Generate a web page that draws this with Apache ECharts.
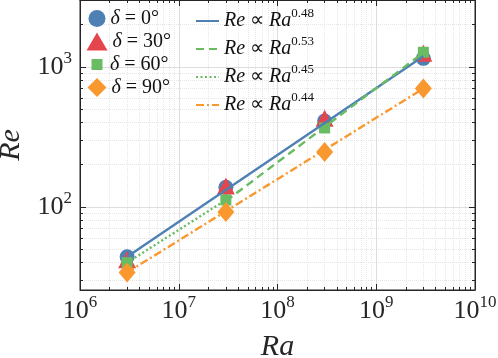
<!DOCTYPE html>
<html>
<head>
<meta charset="utf-8">
<script src="https://cdn.jsdelivr.net/npm/echarts@6/dist/echarts.min.js"></script>
<style>
  html, body { margin: 0; background: #fff; }
  #chart { width: 498px; height: 358px; }
</style>
</head>
<body>
<div id="chart"></div>
<script>
const raSamples = [3e6, 3e7, 3e8, 3e9]
const reDelta0 = [44, 138, 410, 1150]
const reDelta30 = [42, 141, 430, 1250]
const reDelta60 = [40, 112, 366, 1270]
const reDelta90 = [34, 92, 247, 699]

// fitted power laws, end points
const fit048Ra = [3e6, 3e9]
const fit048Re = [44, 1190]
const fit053Ra = [3e7, 3e9]
const fit053Re = [110, 1260]
const fit045Ra = [3e6, 3e7]
const fit045Re = [40, 112]
const fit044Ra = [3e6, 3e9]
const fit044Re = [34, 700]

const raRange = [1e6, 1e10]
const reRange = [25.5, 3000]

const markerNames = ['δ = 0°', 'δ = 30°', 'δ = 60°', 'δ = 90°']
const fitNames = ['0.48', '0.53', '0.45', '0.44']

const serif = 'Liberation Serif'
const ink = '#262626'
const blue = '#4f80b3'
const red = '#e5464e'
const green = '#69bc62'
const orange = '#f9982f'

function pairs(xs, ys) {
  return xs.map((x, i) => [x, ys[i]])
}

function powerLabel(value) {
  const e = Math.log10(value)
  if (Math.abs(e - Math.round(e)) > 1e-6) return ''
  return '{b|10}{s|' + Math.round(e) + '}'
}

const tickRich = {
  b: { fontFamily: serif, fontSize: 26, color: ink, lineHeight: 30 },
  s: { fontFamily: serif, fontSize: 17, color: ink, lineHeight: 30, padding: [0, 0, 16, 0] },
}

function logAxis(extra) {
  return Object.assign({
    type: 'log',
    logBase: 10,
    axisLine: { show: true, lineStyle: { color: ink, width: 1 } },
    axisTick: { show: true, inside: true, length: 6, lineStyle: { color: ink } },
    minorTick: { show: true, splitNumber: 9, length: 3, lineStyle: { color: ink } },
    splitLine: { show: true, lineStyle: { color: '#dedede', width: 1 } },
    minorSplitLine: { show: true, lineStyle: { color: '#e6e6e6', type: 'dotted', width: 1 } },
    axisLabel: { formatter: powerLabel, rich: tickRich },
  }, extra)
}

const legendText = {
  fontFamily: serif,
  fontSize: 20,
  color: '#111',
  lineHeight: 22,
  rich: {
    i: { fontFamily: serif, fontStyle: 'italic', fontSize: 20, color: '#111', lineHeight: 22 },
    t: { fontFamily: serif, fontSize: 20, color: '#111', lineHeight: 22 },
    s: { fontFamily: serif, fontSize: 13, color: '#111', lineHeight: 22, padding: [0, 0, 14, 0] },
  },
}

// marker legend rows: one legend each so every icon keeps its own size
const markerIcons = ['circle', 'triangle', 'rect', 'diamond']
const markerLegendSize = [[17, 17], [21, 18], [11, 11], [19, 19]]
const markerLegends = markerNames.map((name, i) => {
  const [w, h] = markerLegendSize[i]
  return {
    data: [{ name, icon: markerIcons[i] }],
    left: 97 - w / 2,
    top: 7.5 + i * 23,
    padding: 0,
    itemWidth: w,
    itemHeight: h,
    symbolKeepAspect: false,
    formatter: (n) => n.replace('δ', '{i|δ}'),
    textStyle: Object.assign({}, legendText, { padding: [0, 0, 0, Math.max(0, 8 - w / 2)] }),
  }
})

const fitLegend = {
  data: fitNames.map((e) => 'fit ' + e),
  orient: 'vertical',
  left: 195,
  top: 7.5,
  padding: 0,
  itemWidth: 23,
  itemHeight: 22,
  itemGap: 1,
  itemStyle: { color: 'rgba(0,0,0,0)', borderWidth: 0, opacity: 0 },
  formatter: (n) => '{i|Re} ∝ {i|Ra}{s|' + n.slice(4) + '}',
  textStyle: legendText,
}

const chart = echarts.init(document.getElementById('chart'))

chart.setOption({
  animation: false,
  backgroundColor: '#fff',
  grid: {
    left: 80, right: 23, top: 0, bottom: 68,
    outerBoundsMode: 'none', containLabel: false,
    show: true, borderColor: ink, borderWidth: 1,
  },
  legend: markerLegends.concat([fitLegend]),
  xAxis: [
    logAxis({
      min: raRange[0], max: raRange[1],
      name: 'Ra',
      nameLocation: 'middle',
      nameGap: 34,
      nameTextStyle: { fontFamily: serif, fontStyle: 'italic', fontSize: 30, color: ink },
      axisLabel: { formatter: powerLabel, rich: tickRich, margin: 6 },
    }),
    logAxis({
      min: raRange[0], max: raRange[1], position: 'top',
      axisLabel: { show: false }, splitLine: { show: false }, minorSplitLine: { show: false },
    }),
  ],
  yAxis: [
    logAxis({
      min: reRange[0], max: reRange[1],
      name: 'Re',
      nameLocation: 'middle',
      nameGap: 50,
      nameTextStyle: { fontFamily: serif, fontStyle: 'italic', fontSize: 30, color: ink },
      axisLabel: { formatter: powerLabel, rich: tickRich, margin: 8 },
    }),
    logAxis({
      min: reRange[0], max: reRange[1], position: 'right',
      axisLabel: { show: false }, splitLine: { show: false }, minorSplitLine: { show: false },
    }),
  ],
  series: [
    { name: markerNames[0], type: 'scatter', symbol: 'circle', symbolSize: 15,
      itemStyle: { color: blue, opacity: 1 }, data: pairs(raSamples, reDelta0) },
    { name: markerNames[1], type: 'scatter', symbol: 'triangle', symbolSize: [18, 17],
      itemStyle: { color: red, opacity: 1 }, data: pairs(raSamples, reDelta30) },
    { name: markerNames[2], type: 'scatter', symbol: 'rect', symbolSize: 11,
      itemStyle: { color: green, opacity: 1 }, data: pairs(raSamples, reDelta60) },
    { name: markerNames[3], type: 'scatter', symbol: 'diamond', symbolSize: [17, 20],
      itemStyle: { color: orange, opacity: 1 }, data: pairs(raSamples, reDelta90) },
    { name: 'fit 0.48', type: 'line', symbol: 'none', color: blue,
      lineStyle: { color: blue, width: 2.4 }, data: pairs(fit048Ra, fit048Re) },
    { name: 'fit 0.53', type: 'line', symbol: 'none', color: green,
      lineStyle: { color: green, width: 2.4, type: [8, 5] }, data: pairs(fit053Ra, fit053Re) },
    { name: 'fit 0.45', type: 'line', symbol: 'none', color: green,
      lineStyle: { color: green, width: 2.4, type: [2, 2.5] }, data: pairs(fit045Ra, fit045Re) },
    { name: 'fit 0.44', type: 'line', symbol: 'none', color: orange,
      lineStyle: { color: orange, width: 2.4, type: [8, 3, 2, 3] }, data: pairs(fit044Ra, fit044Re) },
  ],
})
</script>
</body>
</html>
